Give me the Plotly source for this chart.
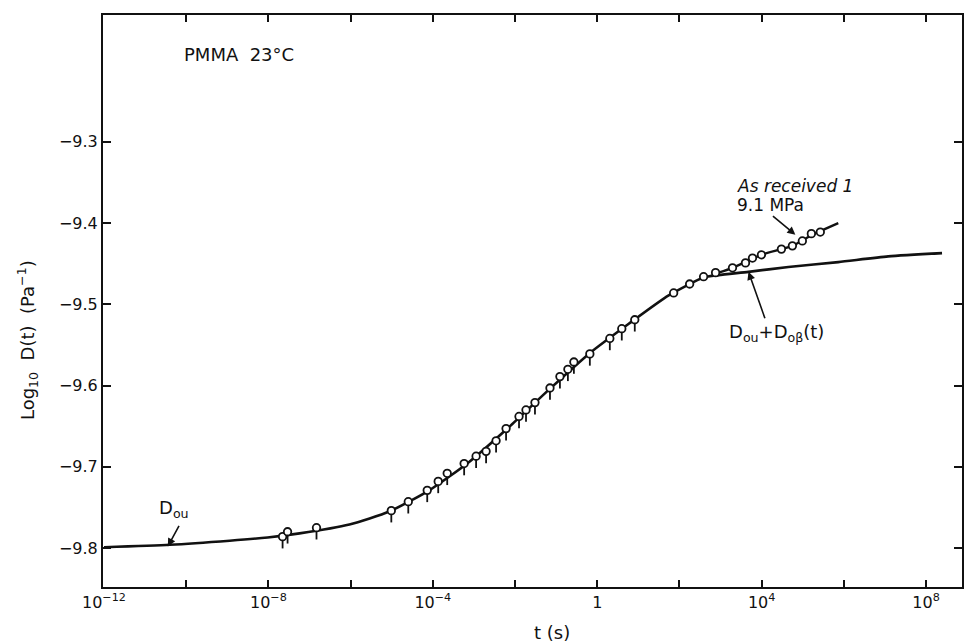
import plotly.graph_objects as go

# ---- data (log10 t in s, log10 D in Pa^-1) ----
log_t_pip = [-7.655, -7.534, -6.830, -5.010, -4.597, -4.136, -3.869, -3.650, -3.238, -2.947,
             -2.704, -2.461, -2.218, -1.903, -1.733, -1.515, -1.150, -0.908, -0.714, -0.568,
             -0.180, 0.306, 0.597, 0.913]
logD_pip = [-9.786, -9.780, -9.775, -9.754, -9.743, -9.729, -9.718, -9.708, -9.696, -9.687,
            -9.681, -9.668, -9.653, -9.638, -9.630, -9.621, -9.603, -9.589, -9.580, -9.571,
            -9.561, -9.542, -9.530, -9.519]

log_t_open = [1.859, 2.248, 2.587, 2.879, 3.291, 3.607, 3.777, 3.995, 4.481, 4.748, 4.990, 5.209, 5.427]
logD_open = [-9.486, -9.475, -9.466, -9.461, -9.455, -9.449, -9.443, -9.439, -9.432, -9.428,
             -9.422, -9.413, -9.411]

log_t_model = [-12.0, -10.398, -8.942, -8.019, -7.243, -6.029, -5.058, -4.087, -3.117, -2.146,
               -1.175, -0.204, 0.767, 1.738, 2.587, 2.951, 3.680, 4.650, 5.864, 7.078, 8.388]
logD_model = [-9.799, -9.796, -9.791, -9.787, -9.782, -9.771, -9.755, -9.729, -9.694, -9.651,
              -9.605, -9.561, -9.524, -9.489, -9.467, -9.464, -9.460, -9.454, -9.448, -9.441,
              -9.437]

log_t_upper = [2.951, 3.291, 3.995, 4.748, 5.209, 5.864]
logD_upper = [-9.461, -9.455, -9.439, -9.428, -9.415, -9.400]

x_tick_vals = [-12, -8, -4, 0, 4, 8]
x_tick_text = ["10<sup>−12</sup>", "10<sup>−8</sup>", "10<sup>−4</sup>", "1",
               "10<sup>4</sup>", "10<sup>8</sup>"]
x_minor_vals = [-10, -6, -2, 2, 6]
y_tick_vals = [-9.8, -9.7, -9.6, -9.5, -9.4, -9.3]
y_tick_text = ["−9.8", "−9.7", "−9.6", "−9.5", "−9.4", "−9.3"]

FONT = "DejaVu Sans"
BLACK = "#111111"

fig = go.Figure()

fig.add_trace(go.Scatter(x=log_t_model, y=logD_model, mode="lines",
                         line=dict(color=BLACK, width=2.6, shape="spline", smoothing=0.6),
                         hoverinfo="skip", showlegend=False))
fig.add_trace(go.Scatter(x=log_t_upper, y=logD_upper, mode="lines",
                         line=dict(color=BLACK, width=2.4, shape="spline", smoothing=0.6),
                         hoverinfo="skip", showlegend=False))

fig.add_trace(go.Scatter(
    x=log_t_pip, y=logD_pip, mode="markers",
    marker=dict(symbol="circle", size=7.5, color="white", line=dict(color=BLACK, width=1.8)),
    error_y=dict(type="data", symmetric=False, array=[0] * len(log_t_pip),
                 arrayminus=[0.0145] * len(log_t_pip), color=BLACK, thickness=1.8, width=0),
    showlegend=False))
fig.add_trace(go.Scatter(
    x=log_t_open, y=logD_open, mode="markers",
    marker=dict(symbol="circle", size=7.5, color="white", line=dict(color=BLACK, width=1.8)),
    showlegend=False))

ann_font = dict(family=FONT, size=17, color=BLACK)
annotations = [
    dict(x=-10.107, y=-9.193, text="PMMA  23°C", showarrow=False, xanchor="left", yanchor="middle",
         font=dict(family=FONT, size=18, color=BLACK)),
    dict(x=3.34, y=-9.354, text="<i>As received 1</i>", showarrow=False, xanchor="left",
         yanchor="middle", font=ann_font),
    dict(x=3.34, y=-9.3775, text="9.1 MPa", showarrow=False, xanchor="left", yanchor="middle",
         font=ann_font),
    dict(x=4.82, y=-9.4144, ax=4.238, ay=-9.3898, axref="x", ayref="y", text="", showarrow=True,
         arrowhead=2, arrowsize=1, arrowwidth=1.6, arrowcolor=BLACK),
    dict(x=3.146, y=-9.535, text="D<sub>ou</sub>+D<sub>oβ</sub>(t)", showarrow=False, xanchor="left",
         yanchor="middle", font=dict(family=FONT, size=18, color=BLACK)),
    dict(x=3.68, y=-9.460, ax=4.092, ay=-9.519, axref="x", ayref="y", text="", showarrow=True,
         arrowhead=2, arrowsize=1, arrowwidth=1.6, arrowcolor=BLACK),
    dict(x=-10.714, y=-9.752, text="D<sub>ou</sub>", showarrow=False, xanchor="left",
         yanchor="middle", font=dict(family=FONT, size=18, color=BLACK)),
    dict(x=-10.447, y=-9.798, ax=-10.155, ay=-9.771, axref="x", ayref="y", text="", showarrow=True,
         arrowhead=2, arrowsize=1, arrowwidth=1.6, arrowcolor=BLACK),
    dict(x=-0.0883, y=0.432, xref="paper", yref="paper", text="Log<sub>10</sub>  D(t)  (Pa<sup>−1</sup>)",
         textangle=-90, showarrow=False, xanchor="center", yanchor="middle",
         font=dict(family=FONT, size=18, color=BLACK)),
    dict(x=0.5226, y=-0.0787, xref="paper", yref="paper", text="t (s)", showarrow=False,
         xanchor="center", yanchor="middle", font=dict(family=FONT, size=18, color=BLACK)),
]

fig.update_layout(
    width=964, height=644,
    margin=dict(l=103, r=0, t=15, b=57),
    paper_bgcolor="white", plot_bgcolor="white",
    font=dict(family=FONT, size=15, color=BLACK),
    annotations=annotations,
    showlegend=False,
)
fig.update_xaxes(range=[-12.024, 8.874], tickmode="array", tickvals=x_tick_vals, ticktext=x_tick_text,
                 ticks="inside", ticklen=7, tickwidth=1.6, tickcolor=BLACK,
                 minor=dict(tickmode="array", tickvals=x_minor_vals, ticks="inside", ticklen=7,
                            tickwidth=1.6, tickcolor=BLACK, showgrid=False),
                 showline=True, linecolor=BLACK, linewidth=2, mirror="ticks",
                 showgrid=False, zeroline=False, tickfont=dict(family=FONT, size=16, color=BLACK))
fig.update_yaxes(range=[-9.848, -9.1438], tickmode="array", tickvals=y_tick_vals, ticktext=y_tick_text,
                 ticks="inside", ticklen=8, tickwidth=1.6, tickcolor=BLACK,
                 showline=True, linecolor=BLACK, linewidth=2, mirror="ticks",
                 showgrid=False, zeroline=False, tickfont=dict(family=FONT, size=16, color=BLACK))

fig.write_html("out.html")
